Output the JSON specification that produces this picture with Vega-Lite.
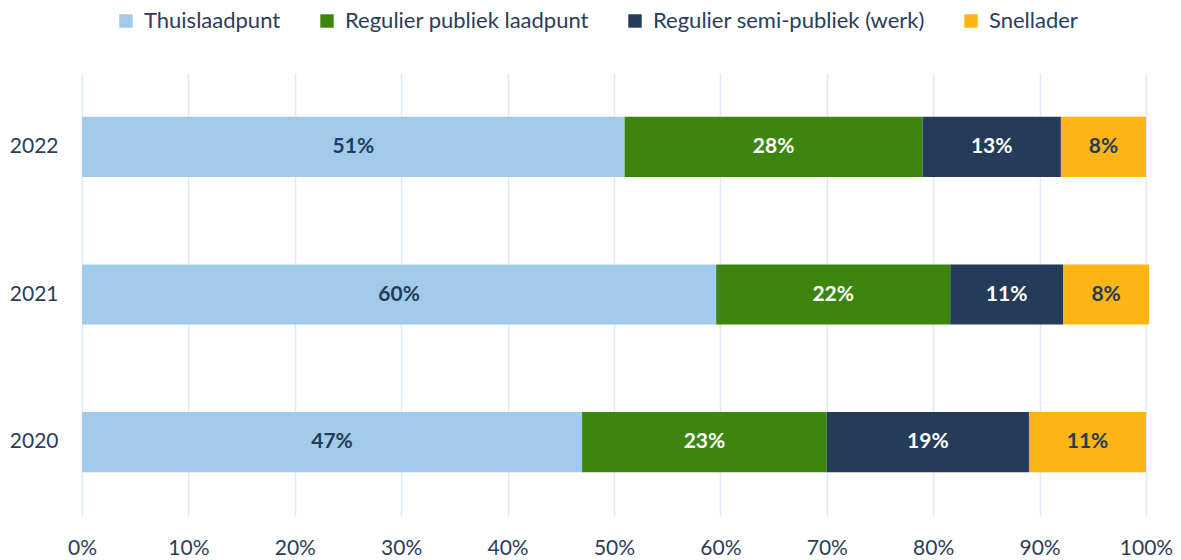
{
  "$schema": "https://vega.github.io/schema/vega-lite/v6.json",
  "width": 1064,
  "height": 443,
  "autosize": "none",
  "padding": {"left": 82, "top": 73, "right": 35, "bottom": 44},
  "background": "white",
  "config": {
    "font": "Lato",
    "view": {"stroke": null},
    "axis": {"labelFont": "Lato", "labelColor": "#2b3d58", "labelFontSize": 21}
  },
  "data": {
    "values": [
      {"year": "2022", "cat": "Thuislaadpunt", "i": 1, "value": 0.51},
      {"year": "2022", "cat": "Regulier publiek laadpunt", "i": 2, "value": 0.28},
      {"year": "2022", "cat": "Regulier semi-publiek (werk)", "i": 3, "value": 0.13},
      {"year": "2022", "cat": "Snellader", "i": 4, "value": 0.08},
      {"year": "2021", "cat": "Thuislaadpunt", "i": 1, "value": 0.596},
      {"year": "2021", "cat": "Regulier publiek laadpunt", "i": 2, "value": 0.22},
      {"year": "2021", "cat": "Regulier semi-publiek (werk)", "i": 3, "value": 0.106},
      {"year": "2021", "cat": "Snellader", "i": 4, "value": 0.081},
      {"year": "2020", "cat": "Thuislaadpunt", "i": 1, "value": 0.47},
      {"year": "2020", "cat": "Regulier publiek laadpunt", "i": 2, "value": 0.23},
      {"year": "2020", "cat": "Regulier semi-publiek (werk)", "i": 3, "value": 0.19},
      {"year": "2020", "cat": "Snellader", "i": 4, "value": 0.11}
    ]
  },
  "transform": [
    {"stack": "value", "groupby": ["year"], "sort": [{"field": "i", "order": "ascending"}], "as": ["v0", "v1"]},
    {"calculate": "(datum.v0 + datum.v1) / 2", "as": "mid"}
  ],
  "encoding": {
    "y": {
      "field": "year",
      "type": "nominal",
      "sort": "descending",
      "title": null,
      "scale": {"paddingInner": 0.593, "paddingOuter": 0.297},
      "axis": {"domain": false, "ticks": false, "labelPadding": 24, "grid": false}
    }
  },
  "layer": [
    {
      "mark": {"type": "bar"},
      "encoding": {
        "x": {
          "field": "v0",
          "type": "quantitative",
          "scale": {"domain": [0, 1], "nice": false, "zero": true, "clamp": false},
          "title": null,
          "axis": {
            "format": ".0%",
            "values": [0, 0.1, 0.2, 0.3, 0.4, 0.5, 0.6, 0.7, 0.8, 0.9, 1],
            "domain": false,
            "ticks": false,
            "labelPadding": 21,
            "grid": true,
            "gridColor": "#deeaf5",
            "gridWidth": 1.5,
            "labelFlush": false
          }
        },
        "x2": {"field": "v1"},
        "color": {
          "field": "cat",
          "type": "nominal",
          "scale": {
            "domain": ["Thuislaadpunt", "Regulier publiek laadpunt", "Regulier semi-publiek (werk)", "Snellader"],
            "range": ["#a1cbe9", "#3c860f", "#243c5a", "#fdb515"]
          },
          "legend": {
            "title": null,
            "orient": "none",
            "legendX": 33,
            "legendY": -63,
            "direction": "horizontal",
            "columns": 4,
            "columnPadding": 35,
            "symbolType": "square",
            "symbolSize": 180,
            "symbolStrokeWidth": 0,
            "labelFontSize": 22,
            "labelFont": "Lato",
            "labelColor": "#2b3d58",
            "labelOffset": 7,
            "labelLimit": 400
          }
        }
      }
    },
    {
      "mark": {"type": "text", "fontSize": 21, "fontWeight": "bold", "font": "Lato"},
      "encoding": {
        "x": {"field": "mid", "type": "quantitative"},
        "text": {"field": "value", "type": "quantitative", "format": ".0%"},
        "color": {
          "condition": {"test": "datum.cat === 'Regulier publiek laadpunt' || datum.cat === 'Regulier semi-publiek (werk)'", "value": "white"},
          "value": "#243c5a"
        }
      }
    }
  ]
}
